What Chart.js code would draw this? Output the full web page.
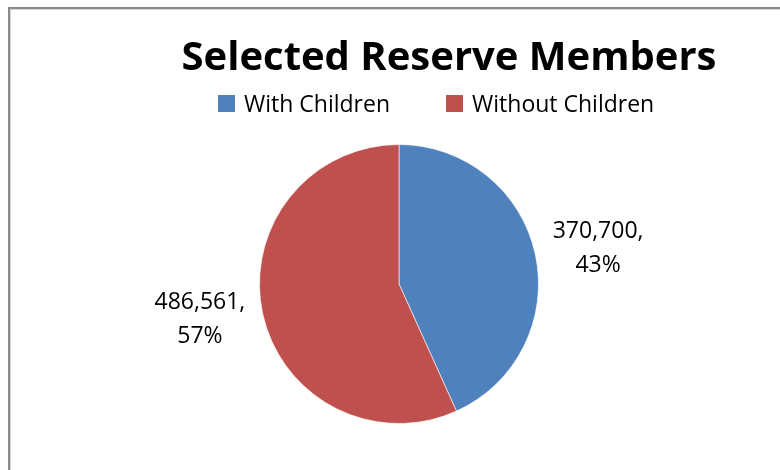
<!DOCTYPE html>
<html>
<head>
    <title>Selected Reserve Members</title>
    <style>
        body {
            margin: 0;
            padding: 0;
            background-color: #fff;
            overflow: hidden;
            font-family: "Open Sans", Arial, sans-serif;
        }

        .wrap {
            position: relative;
            width: 780px;
            height: 470px;
            overflow: hidden;
        }

        .frame {
            position: absolute;
            left: 8px;
            top: 7px;
            width: 820px;
            height: 520px;
            border: 2px solid #8a8a8a;
            box-shadow: 1px 1px 0 #d6d6d6 inset;
        }

        .title {
            position: absolute;
            top: 35px;
            left: 449px;
            transform: translateX(-50%);
            font-size: 40px;
            font-weight: bold;
            line-height: 1;
            white-space: nowrap;
            color: #000;
        }

        .legend {
            position: absolute;
            top: 92px;
            left: 218px;
            display: flex;
            align-items: center;
            font-size: 23px;
            line-height: 1;
            color: #000;
        }

        .legend-item {
            display: flex;
            align-items: center;
            margin-right: 56px;
        }

        .legend-box {
            width: 17px;
            height: 17px;
            margin-right: 9px;
        }

        canvas {
            position: absolute;
            left: 0;
            top: 0;
        }
    </style>
</head>
<body>
<div class="wrap">
    <div class="frame"></div>
    <canvas id="pieChart" width="780" height="470"></canvas>
    <div class="title">Selected Reserve Members</div>
    <div class="legend" id="legend"></div>
</div>

<script src="https://cdn.jsdelivr.net/npm/chart.js@4.4.1/dist/chart.umd.min.js"></script>
<script>
    const categories = ['With Children', 'Without Children'];
    const members = [370700, 486561];
    const colors = ['#4f81bd', '#c0504d'];

    function formatNumber(value) {
        return value.toString().replace(/\B(?=(\d{3})+(?!\d))/g, ',');
    }

    // value + percentage written outside each slice, two lines
    const sliceLabels = {
        id: 'sliceLabels',
        afterDatasetsDraw(chart, args, opts) {
            const ctx = chart.ctx;
            const data = chart.data.datasets[0].data;
            const total = data.reduce((a, b) => a + b, 0);
            const meta = chart.getDatasetMeta(0);

            ctx.save();
            ctx.font = opts.font;
            ctx.fillStyle = opts.color;
            ctx.textAlign = 'center';
            ctx.textBaseline = 'middle';

            meta.data.forEach((arc, i) => {
                const p = arc.getProps(['x', 'y', 'startAngle', 'endAngle', 'outerRadius']);
                const mid = (p.startAngle + p.endAngle) / 2;
                const dist = p.outerRadius * opts.distance;
                const cx = p.x + Math.cos(mid) * dist;
                const cy = p.y + Math.sin(mid) * dist * opts.squeezeY;
                const lines = [
                    formatNumber(data[i]) + ',',
                    Math.round(data[i] / total * 100) + '%'
                ];
                lines.forEach((line, j) => {
                    const dy = (j - (lines.length - 1) / 2) * opts.lineHeight;
                    ctx.fillText(line, cx, cy + dy);
                });
            });
            ctx.restore();
        }
    };

    const pieChart = new Chart(document.getElementById('pieChart'), {
        type: 'pie',
        data: {
            labels: categories,
            datasets: [{
                data: members,
                backgroundColor: colors,
                borderColor: 'rgba(255, 255, 255, 0.6)',
                borderWidth: 1,
                hoverOffset: 0
            }]
        },
        options: {
            responsive: false,
            animation: false,
            devicePixelRatio: 1,
            layout: {
                padding: { left: 259, right: 241, top: 144, bottom: 46 }
            },
            plugins: {
                legend: { display: false },
                title: { display: false },
                tooltip: { enabled: false },
                sliceLabels: {
                    font: '23px "Open Sans", Arial, sans-serif',
                    color: '#000',
                    distance: 1.46,
                    squeezeY: 0.82,
                    lineHeight: 34
                }
            }
        },
        plugins: [sliceLabels]
    });

    // legend built from the same arrays as the chart
    const legend = document.getElementById('legend');
    categories.forEach((name, i) => {
        const item = document.createElement('div');
        item.className = 'legend-item';
        const box = document.createElement('span');
        box.className = 'legend-box';
        box.style.backgroundColor = colors[i];
        const text = document.createElement('span');
        text.textContent = name;
        item.appendChild(box);
        item.appendChild(text);
        legend.appendChild(item);
    });
</script>
</body>
</html>
